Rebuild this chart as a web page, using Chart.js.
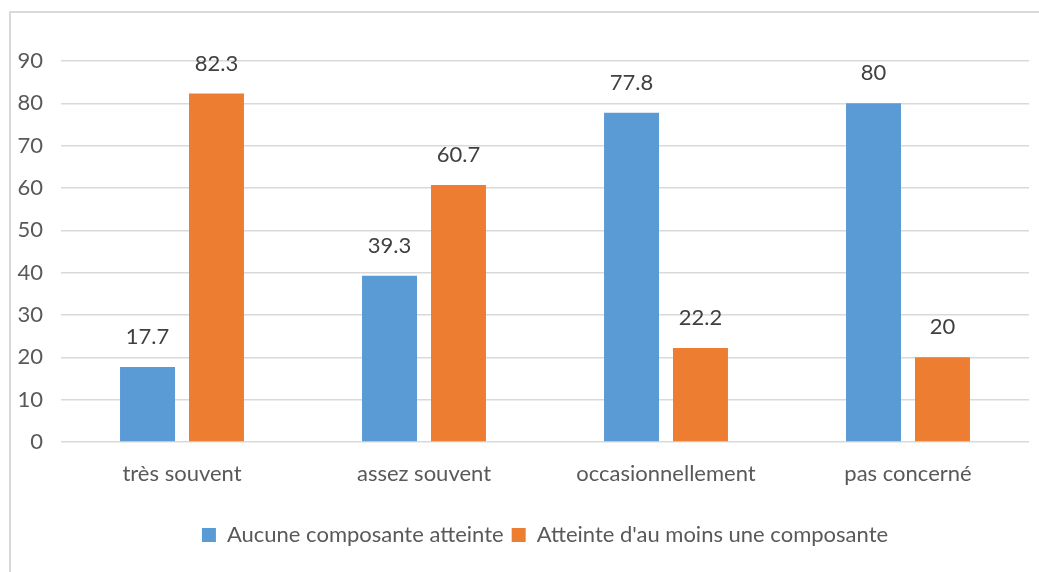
<!DOCTYPE html>
<html>
<head>
<meta charset="utf-8">
<script src="https://cdn.jsdelivr.net/npm/chart.js@4/dist/chart.umd.min.js"></script>
<style>
html,body{margin:0;padding:0;background:#fff;}
#wrap{width:1039px;height:572px;position:relative;}
</style>
</head>
<body>
<div id="wrap"><canvas id="c" width="1039" height="572"></canvas></div>
<script>
const categories = ["très souvent", "assez souvent", "occasionnellement", "pas concerné"];
const seriesNames = ["Aucune composante atteinte", "Atteinte d'au moins une composante"];
const aucune = [17.7, 39.3, 77.8, 80];
const atteinte = [82.3, 60.7, 22.2, 20];
const yTicks = [0, 10, 20, 30, 40, 50, 60, 70, 80, 90];

const FONT = "Lato";
const TEXT = "#595959";

const frame = {
  id: 'frame',
  beforeDraw(chart) {
    const ctx = chart.ctx;
    ctx.save();
    ctx.fillStyle = '#fff';
    ctx.fillRect(0, 0, chart.width, chart.height);
    ctx.strokeStyle = '#D9D9D9';
    ctx.lineWidth = 2;
    ctx.strokeRect(10, 12, chart.width + 20, chart.height + 20);
    ctx.restore();
  }
};

const valueLabels = {
  id: 'valueLabels',
  afterDatasetsDraw(chart) {
    const ctx = chart.ctx;
    ctx.save();
    ctx.font = "22px " + FONT;
    ctx.fillStyle = "#404040";
    ctx.textAlign = 'center';
    ctx.textBaseline = 'middle';
    chart.data.datasets.forEach((ds, di) => {
      chart.getDatasetMeta(di).data.forEach((bar, i) => {
        ctx.fillText(String(ds.data[i]), bar.x, bar.y - 30);
      });
    });
    ctx.restore();
  }
};

new Chart(document.getElementById('c'), {
  type: 'bar',
  data: {
    labels: categories,
    datasets: [
      { label: seriesNames[0], data: aucune, backgroundColor: '#5B9BD5' },
      { label: seriesNames[1], data: atteinte, backgroundColor: '#ED7D31' }
    ]
  },
  options: {
    responsive: false,
    animation: false,
    devicePixelRatio: 1,
    layout: { padding: { left: 10, right: 10, top: 61, bottom: 16 } },
    datasets: { bar: { categoryPercentage: 0.57, barPercentage: 0.797 } },
    scales: {
      x: {
        grid: { display: false },
        border: { display: false },
        ticks: { color: TEXT, font: { family: FONT, size: 22 }, padding: 11, maxRotation: 0 },
        afterFit(s) { s.height = 74; }
      },
      y: {
        min: 0, max: 90,
        afterBuildTicks(s) { s.ticks = yTicks.map(v => ({ value: v })); },
        grid: { color: '#D9D9D9', lineWidth: 1.5, drawTicks: false },
        border: { display: false },
        ticks: { color: TEXT, font: { family: FONT, size: 22 }, padding: 18 },
        afterFit(s) { s.width = 51; }
      }
    },
    plugins: {
      tooltip: { enabled: false },
      legend: {
        position: 'bottom',
        fullSize: false,
        labels: { color: TEXT, font: { family: FONT, size: 22 }, boxWidth: 14, boxHeight: 14, padding: 8 }
      }
    }
  },
  plugins: [frame, valueLabels]
});
</script>
</body>
</html>
